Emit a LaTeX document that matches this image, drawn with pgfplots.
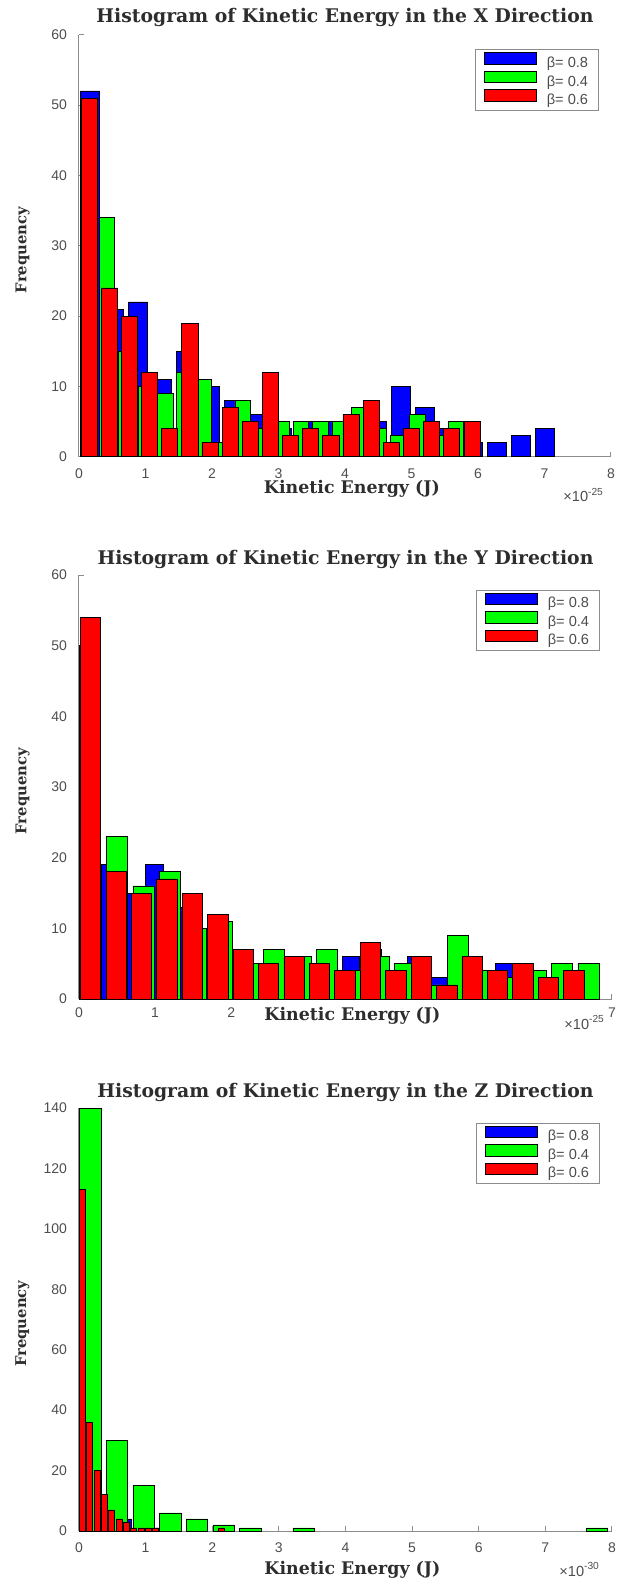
\documentclass[border=0pt]{standalone}
\usepackage{fontspec}
\setmainfont{DejaVu Serif}
\newfontfamily\ar{Liberation Sans}
\usepackage{pgfplots}
\pgfplotsset{compat=1.18}
\definecolor{mblue}{RGB}{0,0,255}
\definecolor{mgreen}{RGB}{0,255,0}
\definecolor{mred}{RGB}{255,0,0}
\definecolor{tickgray}{RGB}{77,77,77}
\definecolor{titlegray}{RGB}{45,45,45}
\definecolor{axgray}{RGB}{140,140,140}
\pgfplotsset{
  histax/.style={
    scale only axis,
    clip=false,
    axis lines=left,
    axis line style={-, draw=axgray, line width=0.5pt},
    ymin=0, xmin=0,
    tick align=inside,
    major tick length=2.5pt,
    tick style={draw=axgray, line width=0.5pt},
    tick label style={font=\ar\fontsize{7}{8}\selectfont, text=tickgray},
    /pgf/number format/assume math mode=true,
    yticklabel style={xshift=-2.5pt},
    every axis title shift=0pt,
    title style={font=\bfseries\fontsize{9.4}{11}\selectfont, text=titlegray, at={(axis description cs:0.5,1)}, anchor=base},
    xlabel style={font=\bfseries\fontsize{8.7}{10}\selectfont, text=titlegray, anchor=base},
    ylabel style={font=\bfseries\fontsize{7.4}{9}\selectfont, text=titlegray, at={(axis description cs:-0.106,0.49)}, anchor=center},
    xlabel={Kinetic Energy (J)},
    ylabel={Frequency},
    legend cell align=left,
    legend style={at={(axis description cs:1,1)}, anchor=north east, xshift=-6pt, yshift=-7.3pt,
      draw=axgray, line width=0.5pt, fill=white,
      font=\ar\fontsize{7.3}{8}\selectfont, text=tickgray,
      inner xsep=4pt, inner ysep=1.2pt, row sep=0pt,
      nodes={inner xsep=1.2pt, inner ysep=0.7pt, text height=5.2pt, text depth=1.0pt},
      /tikz/every odd column/.append style={column sep=4pt}},
    legend image code/.code={\draw[#1,/tikz/.cd,draw=black,line width=0.4pt] (0pt,-0.5pt) rectangle (26pt,5.3pt);},
  },
  hbar/.style={ybar, bar shift=0pt, bar width=#1, draw=black, line width=0.35pt},
}
\begin{document}
\begin{tikzpicture}
\useasboundingbox (0,0) rectangle (309pt,-793pt);
% ---------------- X direction ----------------
\begin{axis}[histax, at={(39.5pt,-228.35pt)}, anchor=south west,
  width=266pt, height=211pt, xmax=8, ymax=60,
  xtick={0,1,...,8}, ytick={0,10,...,60},
  xticklabel style={yshift=-2.5pt},
  title style={yshift=6pt},
  xlabel style={at={(axis description cs:0.513,-0.088)}},
  title={Histogram of Kinetic Energy in the X Direction}]
\addplot[hbar=0.288, fill=mblue] coordinates {
(0.165,52) (0.525,21) (0.885,22) (1.245,11) (1.605,15) (1.965,10) (2.325,8) (2.685,6) (3.045,4) (3.405,5)
(3.765,5) (4.125,4) (4.485,5) (4.845,10) (5.205,7) (5.565,4) (5.925,2) (6.285,2) (6.645,3) (7.005,4)};
\addlegendentry{β= 0.8}
\addplot[hbar=0.233, fill=mgreen] coordinates {
(0.150,47) (0.420,34) (0.711,15) (1.003,10) (1.295,9) (1.587,12) (1.878,11) (2.170,2) (2.462,8) (2.753,4)
(3.045,5) (3.337,5) (3.628,5) (3.920,5) (4.212,7) (4.504,4) (4.795,3) (5.087,6) (5.379,3) (5.670,5)};
\addlegendentry{β= 0.4}
\addplot[hbar=0.242, fill=mred] coordinates {
(0.152,51) (0.455,24) (0.758,20) (1.061,12) (1.364,4) (1.667,19) (1.970,2) (2.273,7) (2.576,5) (2.879,12)
(3.182,3) (3.485,4) (3.788,3) (4.091,6) (4.394,8) (4.697,2) (5.000,4) (5.303,5) (5.606,4) (5.909,5)};
\addlegendentry{β= 0.6}
\node[anchor=base east, yshift=-22.5pt, font=\ar\fontsize{7.3}{8}\selectfont, text=tickgray] at (rel axis cs:1,0) {×10\textsuperscript{-25}};
\end{axis}
% ---------------- Y direction ----------------
\begin{axis}[histax, at={(39.5pt,-499.5pt)}, anchor=south west,
  width=266.5pt, height=212pt, xmax=7, ymax=60,
  xtick={0,1,...,7}, xticklabels={0,1,2,,,,,7}, ytick={0,10,...,60},
  xticklabel style={yshift=-1pt},
  title style={yshift=5.5pt},
  xlabel style={at={(axis description cs:0.513,-0.05)}, fill=white, inner sep=1pt},
  title={Histogram of Kinetic Energy in the Y Direction}]
\addplot[hbar=0.23, fill=mblue] coordinates {
(0.140,44) (0.413,19) (0.700,15) (0.987,19) (1.274,13) (1.561,10) (1.848,11) (2.135,7) (2.422,5) (2.709,6)
(2.996,5) (3.283,6) (3.570,6) (3.857,7) (4.144,4) (4.431,6) (4.718,3) (5.005,5) (5.292,4) (5.579,5)};
\addlegendentry{β= 0.8}
\addplot[hbar=0.275, fill=mgreen] coordinates {
(0.148,50) (0.502,23) (0.846,16) (1.189,18) (1.533,10) (1.877,11) (2.221,5) (2.565,7) (2.908,6) (3.252,7)
(3.596,4) (3.940,6) (4.284,5) (4.627,2) (4.971,9) (5.315,4) (5.659,3) (6.003,4) (6.346,5) (6.690,5)};
\addlegendentry{β= 0.4}
\addplot[hbar=0.267, fill=mred] coordinates {
(0.153,54) (0.487,18) (0.821,15) (1.155,17) (1.489,15) (1.823,12) (2.157,7) (2.491,5) (2.825,6) (3.159,5)
(3.493,4) (3.827,8) (4.161,4) (4.495,6) (4.829,2) (5.163,6) (5.497,4) (5.831,5) (6.165,3) (6.499,4)};
\addlegendentry{β= 0.6}
\node[anchor=base east, yshift=-15pt, font=\ar\fontsize{7.3}{8}\selectfont, text=tickgray] at (rel axis cs:1,0) {×10\textsuperscript{-25}};
\end{axis}
% ---------------- Z direction ----------------
\begin{axis}[histax, at={(39.5pt,-765.5pt)}, anchor=south west,
  width=266.5pt, height=211.5pt, xmax=8, ymax=140,
  xtick={0,1,...,8}, ytick={0,20,...,140},
  xticklabel style={yshift=-2.5pt},
  title style={yshift=5.5pt},
  xlabel style={at={(axis description cs:0.513,-0.102)}},
  title={Histogram of Kinetic Energy in the Z Direction}]
\addplot[hbar=0.128, fill=mblue] coordinates {
(0.08,120) (0.24,50) (0.40,12) (0.56,8) (0.72,4) (0.88,2) (1.04,2) (1.20,1) (1.36,1)};
\addlegendentry{β= 0.8}
\addplot[hbar=0.32, fill=mgreen] coordinates {
(0.17,140) (0.57,30) (0.97,15) (1.37,6) (1.77,4) (2.17,2) (2.57,1) (3.37,1) (7.77,1)};
\addlegendentry{β= 0.4}
\addplot[hbar=0.088, fill=mred] coordinates {
(0.05,113) (0.16,36) (0.27,20) (0.38,12) (0.49,7) (0.60,4) (0.71,3) (0.82,1) (0.93,1) (1.04,1) (1.15,1) (2.14,1)};
\addlegendentry{β= 0.6}
\node[anchor=base east, yshift=-22.5pt, xshift=-2.5pt, font=\ar\fontsize{7.3}{8}\selectfont, text=tickgray] at (rel axis cs:1,0) {×10\textsuperscript{-30}};
\end{axis}
\end{tikzpicture}
\end{document}
